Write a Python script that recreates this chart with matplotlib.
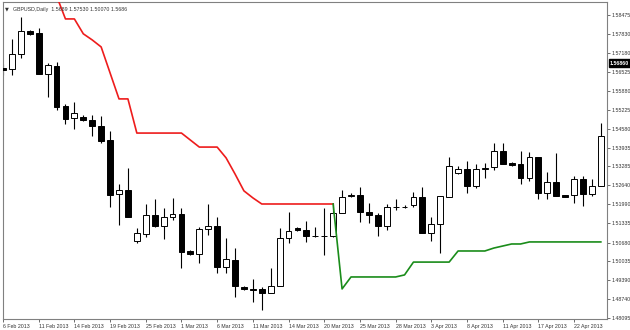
import matplotlib
matplotlib.use("Agg")
import matplotlib.pyplot as plt
from matplotlib.patches import Rectangle
import numpy as np

# ---- data (daily GBPUSD candles) ----
opens = [1.5666, 1.5663, 1.5714, 1.5793, 1.5786, 1.5645, 1.5673, 1.5536, 1.5495, 1.5498,
         1.5488, 1.5467, 1.5419, 1.5234, 1.5248, 1.5073, 1.5097, 1.5162, 1.5125, 1.5156,
         1.5166, 1.5039, 1.5029, 1.5114, 1.5125, 1.4984, 1.5008, 1.4916, 1.4909, 1.4909,
         1.4895, 1.4919, 1.5083, 1.5118, 1.5111, 1.5090, 1.5089, 1.5090, 1.5169, 1.5229,
         1.5231, 1.5173, 1.5162, 1.5125, 1.5190, 1.5189, 1.5197, 1.5224, 1.5101, 1.5131,
         1.5224, 1.5306, 1.5320, 1.5262, 1.5320, 1.5327, 1.5382, 1.5341, 1.5337, 1.5289,
         1.5361, 1.5238, 1.5275, 1.5231, 1.5231, 1.5286, 1.5234, 1.5262]
highs = [1.5680, 1.5765, 1.5841, 1.5796, 1.5803, 1.5683, 1.5687, 1.5543, 1.5550, 1.5505,
         1.5505, 1.5502, 1.5450, 1.5269, 1.5323, 1.5118, 1.5200, 1.5217, 1.5186, 1.5221,
         1.5186, 1.5042, 1.5121, 1.5200, 1.5156, 1.5083, 1.5049, 1.4919, 1.4943, 1.4916,
         1.4981, 1.5118, 1.5173, 1.5121, 1.5142, 1.5121, 1.5186, 1.5203, 1.5248, 1.5238,
         1.5258, 1.5203, 1.5169, 1.5200, 1.5217, 1.5197, 1.5241, 1.5258, 1.5156, 1.5227,
         1.5361, 1.5330, 1.5347, 1.5337, 1.5341, 1.5409, 1.5409, 1.5343, 1.5382, 1.5378,
         1.5361, 1.5310, 1.5375, 1.5232, 1.5296, 1.5296, 1.5286, 1.5478]
lows = [1.5642, 1.5642, 1.5700, 1.5779, 1.5645, 1.5567, 1.5522, 1.5474, 1.5457, 1.5484,
        1.5433, 1.5409, 1.5190, 1.5128, 1.5156, 1.5066, 1.5087, 1.5121, 1.5080, 1.5145,
        1.4981, 1.5025, 1.4998, 1.5094, 1.4964, 1.4964, 1.4881, 1.4905, 1.4864, 1.4837,
        1.4895, 1.4919, 1.5066, 1.5108, 1.5070, 1.5087, 1.5025, 1.5087, 1.5169, 1.5224,
        1.5138, 1.5135, 1.5090, 1.5111, 1.5179, 1.5186, 1.5190, 1.5101, 1.5073, 1.5032,
        1.5224, 1.5303, 1.5238, 1.5255, 1.5289, 1.5317, 1.5337, 1.5330, 1.5269, 1.5279,
        1.5217, 1.5217, 1.5227, 1.5224, 1.5203, 1.5193, 1.5227, 1.5262]
closes = [1.5659, 1.5714, 1.5793, 1.5783, 1.5645, 1.5676, 1.5532, 1.5491, 1.5512, 1.5488,
          1.5467, 1.5416, 1.5231, 1.5248, 1.5156, 1.5101, 1.5162, 1.5125, 1.5156, 1.5166,
          1.5036, 1.5029, 1.5114, 1.5125, 1.4984, 1.5012, 1.4919, 1.4909, 1.4905, 1.4895,
          1.4919, 1.5083, 1.5108, 1.5111, 1.5090, 1.5089, 1.5090, 1.5169, 1.5224, 1.5231,
          1.5173, 1.5162, 1.5125, 1.5190, 1.5189, 1.5190, 1.5224, 1.5101, 1.5131, 1.5227,
          1.5330, 1.5320, 1.5262, 1.5320, 1.5323, 1.5382, 1.5337, 1.5334, 1.5289, 1.5361,
          1.5238, 1.5275, 1.5227, 1.5224, 1.5286, 1.5234, 1.5262, 1.5433]

# trailing stop lines (bar index -> level)
red_start = 6
red_levels = [1.5913, 1.5834, 1.5834, 1.5783, 1.5762, 1.5738, 1.5649, 1.5560, 1.5560,
              1.5443, 1.5443, 1.5443, 1.5443, 1.5443, 1.5443, 1.5419, 1.5395, 1.5395,
              1.5395, 1.5358, 1.5303, 1.5245, 1.5221, 1.5200, 1.5200, 1.5200, 1.5200,
              1.5200, 1.5200, 1.5200, 1.5200, 1.5200]
green_start = 37
green_levels = [1.5200, 1.4909, 1.4950, 1.4950, 1.4950, 1.4950, 1.4950, 1.4950, 1.4957,
                1.5001, 1.5001, 1.5001, 1.5001, 1.5001, 1.5039, 1.5039, 1.5039, 1.5039,
                1.5049, 1.5056, 1.5063, 1.5063, 1.5070, 1.5070, 1.5070, 1.5070, 1.5070,
                1.5070, 1.5070, 1.5070, 1.5070]

date_labels = ["6 Feb 2013", "11 Feb 2013", "14 Feb 2013", "19 Feb 2013", "25 Feb 2013",
               "1 Mar 2013", "6 Mar 2013", "11 Mar 2013", "14 Mar 2013", "20 Mar 2013",
               "25 Mar 2013", "28 Mar 2013", "3 Apr 2013", "8 Apr 2013", "11 Apr 2013",
               "17 Apr 2013", "22 Apr 2013"]
price_ticks = [1.58475, 1.57830, 1.57180, 1.56525, 1.55880, 1.55225, 1.54580, 1.53935,
               1.53285, 1.52640, 1.51990, 1.51335, 1.50680, 1.50035, 1.49390, 1.48740,
               1.48095]
current_price = 1.5683
current_label = "1.56860"
title_text = "GBPUSD,Daily  1.5689 1.57530 1.50070 1.5686"

# ---- figure ----
FONT = "Liberation Sans"
FS = 3.8
W, H = 630, 330
fig = plt.figure(figsize=(W / 100, H / 100), dpi=100)
ax = fig.add_axes([3 / W, 11 / H, 604 / W, 317 / H])

frame_col = "#808080"
for s in ax.spines.values():
    s.set_color(frame_col)
    s.set_linewidth(0.8)

n = len(opens)
bw = 0.66
for i in range(n):
    o, h, l, c = opens[i], highs[i], lows[i], closes[i]
    top, bot = max(o, c), min(o, c)
    ax.vlines(i, l, h, color="black", lw=0.8, zorder=2)
    body = max(top - bot, 0.00012)
    face = "white" if c >= o else "black"
    ax.add_patch(Rectangle((i - bw / 2, bot), bw, body, facecolor=face,
                           edgecolor="black", lw=0.7, zorder=3))

xr = np.arange(red_start, red_start + len(red_levels))
ax.plot(xr, red_levels, color="#ee1c1c", lw=1.2, zorder=4, solid_joinstyle="round")
xg = np.arange(green_start, green_start + len(green_levels))
ax.plot(xg, green_levels, color="#1a8c1a", lw=1.2, zorder=4, solid_joinstyle="round")

ax.set_xlim(0.056, 67.69)
ax.set_ylim(1.4806, 1.5892)

# y axis on right
ax.yaxis.tick_right()
ax.set_yticks(price_ticks)
ax.set_yticklabels([f"{v:.5f}" for v in price_ticks], fontfamily=FONT)
ax.tick_params(axis="y", direction="out", length=2, width=0.6, colors="#555555",
               labelsize=FS, pad=1.0, labelcolor="#333333")

# x axis date labels
xt = list(range(0, 4 * len(date_labels), 4))
ax.set_xticks(xt)
ax.set_xticklabels(date_labels, fontfamily=FONT)
ax.tick_params(axis="x", direction="out", length=2.5, width=0.6, colors="#555555",
               labelsize=FS, pad=1.2, labelcolor="#333333")
for lab in ax.get_xticklabels():
    lab.set_horizontalalignment("left")

# current price label box
ax.text(1.005, current_price, current_label, transform=ax.get_yaxis_transform(),
        fontsize=FS, color="white", va="center", ha="left", fontweight="bold",
        fontfamily=FONT,
        bbox=dict(boxstyle="square,pad=0.2", facecolor="black", edgecolor="black"),
        clip_on=False, zorder=10)

# title
ax.text(0.004, 0.985, "\u25bc", transform=ax.transAxes, fontsize=3.6,
        color="#333333", va="top", ha="left", zorder=10)
ax.text(0.016, 0.985, title_text, transform=ax.transAxes, fontsize=FS,
        color="#333333", va="top", ha="left", zorder=10, fontfamily=FONT)

fig.savefig("out.png", dpi=100)
